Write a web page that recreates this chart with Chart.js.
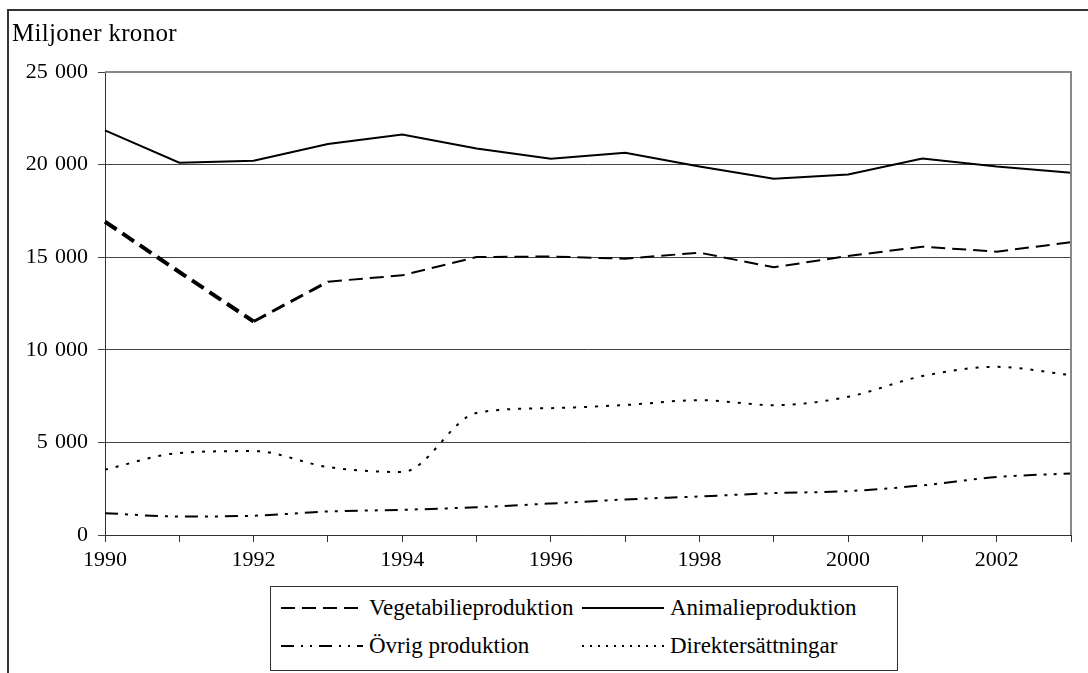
<!DOCTYPE html>
<html>
<head>
<meta charset="utf-8">
<script src="https://cdn.jsdelivr.net/npm/chart.js@4.4.1/dist/chart.umd.min.js"></script>
<style>
  html, body { margin: 0; padding: 0; background: #fff; }
  body { width: 1088px; height: 673px; position: relative; overflow: hidden; font-family: "Liberation Serif", "Times New Roman", serif; }
  #frame { position: absolute; left: 7px; top: 9px; width: 1200px; height: 800px; border-left: 2px solid #333; border-top: 2px solid #333; }
  #wrap { position: absolute; left: 0; top: 0; width: 1088px; height: 673px; }
  #ytitle { position: absolute; left: 12px; top: 19px; font-size: 25px; color: #000; white-space: nowrap; letter-spacing: 0.3px; }
  #legend { position: absolute; left: 270px; top: 586px; width: 628px; height: 85px; border: 1px solid #333; box-sizing: border-box; background: #fff; }
  .item { position: absolute; height: 30px; display: flex; align-items: center; font-size: 23px; color: #000; white-space: nowrap; }
  .item svg { margin-right: 4px; }
</style>
</head>
<body>
<div id="frame"></div>
<div id="wrap"><canvas id="c" width="1088" height="673"></canvas></div>
<div id="ytitle">Miljoner kronor</div>
<div id="legend"></div>
<script>
const years = ['1990','1991','1992','1993','1994','1995','1996','1997','1998','1999','2000','2001','2002','2003'];
const vegetabilie = [16920, 14200, 11530, 13680, 14020, 15010, 15040, 14920, 15245, 14455, 15065, 15570, 15300, 15810];
const animalie = [21850, 20100, 20205, 21110, 21630, 20870, 20315, 20640, 19900, 19230, 19465, 20330, 19900, 19560];
const ovrig = [1180, 1000, 1040, 1270, 1360, 1500, 1700, 1920, 2080, 2260, 2370, 2680, 3130, 3320];
const direkt = [3530, 4430, 4530, 3670, 3400, 6590, 6850, 7020, 7280, 7010, 7460, 8580, 9080, 8630];
const seriesNames = ['Vegetabilieproduktion', 'Animalieproduktion', '\u00D6vrig produktion', 'Direkters\u00E4ttningar'];
const yTicks = [0, 5000, 10000, 15000, 20000, 25000];

const dashVeg = [14, 7];
const dashOvr = [13, 7, 3, 7, 3, 7];
const dashDir = [3, 8];

function fmt(v) { return String(v).replace(/\B(?=(\d{3})+(?!\d))/g, '\u2004'); }

const frameBorder = {
  id: 'frameBorder',
  afterDraw(chart) {
    const a = chart.chartArea, c = chart.ctx;
    c.save();
    c.strokeStyle = '#888';
    c.lineWidth = 2;
    c.beginPath();
    c.moveTo(a.left, a.top);
    c.lineTo(a.right, a.top);
    c.lineTo(a.right, a.bottom);
    c.stroke();
    c.restore();
  }
};

new Chart(document.getElementById('c'), {
  type: 'line',
  data: {
    labels: years,
    datasets: [
      { label: seriesNames[0], data: vegetabilie, borderColor: '#000', borderWidth: 2, borderDash: dashVeg, pointRadius: 0, tension: 0,
        segment: { borderWidth: ctx => ctx.p0DataIndex < 2 ? 4 : (ctx.p0DataIndex < 3 ? 3 : 2) } },
      { label: seriesNames[1], data: animalie, borderColor: '#000', borderWidth: 2, pointRadius: 0, tension: 0 },
      { label: seriesNames[2], data: ovrig, borderColor: '#000', borderWidth: 2, borderDash: dashOvr, pointRadius: 0, cubicInterpolationMode: 'monotone' },
      { label: seriesNames[3], data: direkt, borderColor: '#000', borderWidth: 2, borderDash: dashDir, pointRadius: 0, cubicInterpolationMode: 'monotone' }
    ]
  },
  options: {
    responsive: false,
    animation: false,
    layout: { padding: { top: 72, right: 17, left: 0, bottom: 0 } },
    plugins: { legend: { display: false }, tooltip: { enabled: false } },
    scales: {
      x: {
        type: 'category',
        offset: false,
        grid: { drawOnChartArea: false, drawTicks: true, tickLength: 7, color: '#333', lineWidth: 1 },
        border: { color: '#333', width: 1 },
        ticks: {
          autoSkip: false, maxRotation: 0, minRotation: 0, padding: 5,
          color: '#000', font: { family: 'Liberation Serif', size: 22 },
          callback: function(v, i) { return i % 2 === 0 ? years[i] : ''; }
        },
        afterFit: s => { s.height = 138; }
      },
      y: {
        min: 0, max: 25000,
        afterBuildTicks: s => { s.ticks = yTicks.map(v => ({ value: v })); },
        grid: { color: '#444', lineWidth: 1, tickLength: 7, drawTicks: true },
        border: { color: '#333', width: 1 },
        ticks: {
          color: '#000', padding: 10, font: { family: 'Liberation Serif', size: 22 },
          callback: v => fmt(v)
        },
        afterFit: s => { s.width = 105; }
      }
    }
  },
  plugins: [frameBorder]
});

// HTML legend
const legendItems = [
  { name: seriesNames[0], dash: dashVeg, left: 10, top: 6 },
  { name: seriesNames[1], dash: [], left: 311, top: 6 },
  { name: seriesNames[2], dash: [13, 7, 2, 7, 2, 7], left: 10, top: 44 },
  { name: seriesNames[3], dash: [2, 6], left: 311, top: 44 }
];
const lg = document.getElementById('legend');
legendItems.forEach(it => {
  const d = document.createElement('div');
  d.className = 'item';
  d.style.left = it.left + 'px';
  d.style.top = it.top + 'px';
  const svgNS = 'http://www.w3.org/2000/svg';
  const svg = document.createElementNS(svgNS, 'svg');
  svg.setAttribute('width', '84');
  svg.setAttribute('height', '10');
  const ln = document.createElementNS(svgNS, 'line');
  ln.setAttribute('x1', '0'); ln.setAttribute('y1', '5');
  ln.setAttribute('x2', '82'); ln.setAttribute('y2', '5');
  ln.setAttribute('stroke', '#000'); ln.setAttribute('stroke-width', '2');
  if (it.dash.length) ln.setAttribute('stroke-dasharray', it.dash.join(' '));
  svg.appendChild(ln);
  d.appendChild(svg);
  const t = document.createElement('span');
  t.textContent = it.name;
  d.appendChild(t);
  lg.appendChild(d);
});
</script>
</body>
</html>
